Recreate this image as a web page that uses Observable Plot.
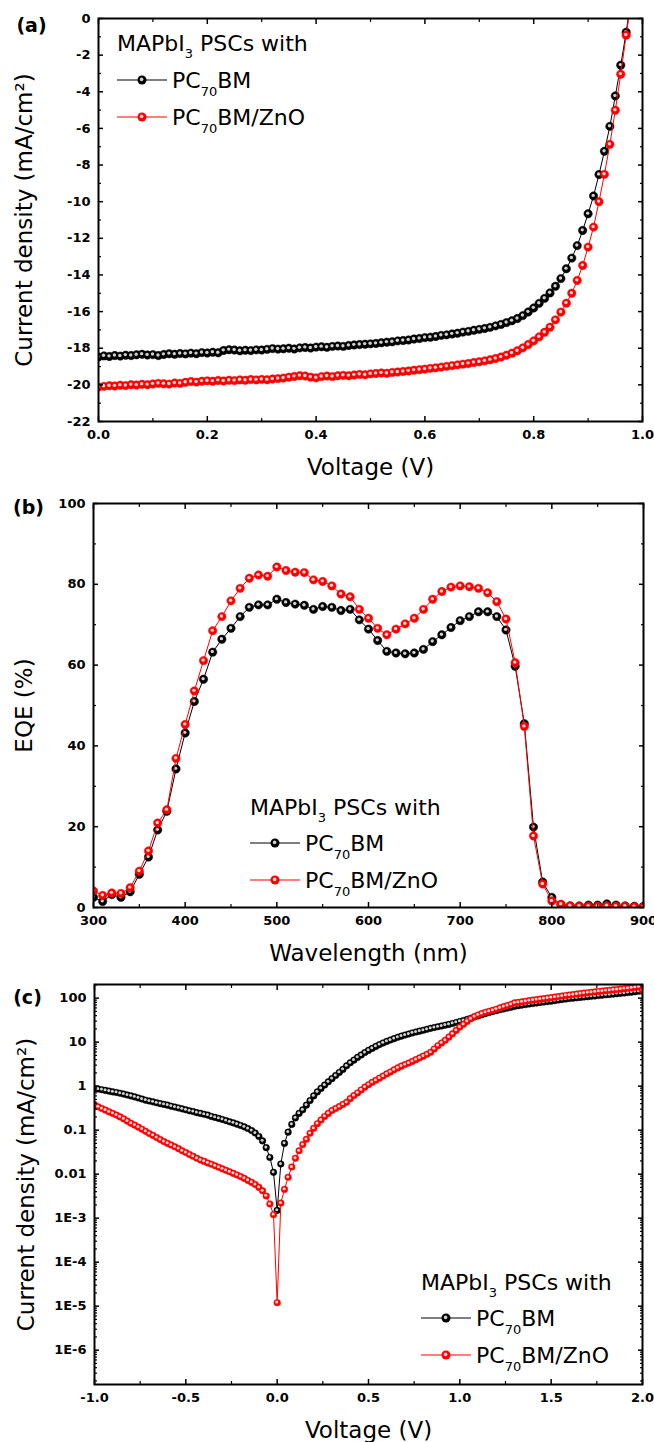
<!DOCTYPE html>
<html><head><meta charset="utf-8">
<script src="https://cdn.jsdelivr.net/npm/d3@7"></script>
<script src="https://cdn.jsdelivr.net/npm/@observablehq/plot@0.6"></script>
<style>
body{margin:0;background:#fff;}
#page{position:relative;width:654px;height:1442px;overflow:hidden;}
.panel{position:absolute;left:0;width:654px;}
.panel svg{display:block;}
.legend{position:absolute;left:0;top:0;pointer-events:none;}
</style></head><body><div id="page"></div>
<script>
const FONT = "'DejaVu Sans', 'Liberation Sans', Arial, sans-serif";

// ---------- (a) J-V under illumination ----------
const voltageA = d3.range(0, 99).map(i => i / 100); // 0.00 ... 0.98 V measurement grid
const jvBlack = [-18.48,-18.42,-18.45,-18.40,-18.43,-18.38,-18.40,-18.36,-18.33,-18.37,
 -18.35,-18.40,-18.34,-18.30,-18.33,-18.29,-18.31,-18.27,-18.30,-18.24,
 -18.26,-18.22,-18.25,-18.12,-18.08,-18.10,-18.14,-18.11,-18.13,-18.09,
 -18.10,-18.06,-18.02,-18.05,-18.03,-18.00,-18.04,-17.98,-17.96,-17.99,
 -17.94,-17.92,-17.95,-17.90,-17.88,-17.90,-17.85,-17.82,-17.80,-17.78,
 -17.76,-17.74,-17.70,-17.67,-17.65,-17.60,-17.58,-17.55,-17.50,-17.47,
 -17.42,-17.40,-17.36,-17.30,-17.27,-17.22,-17.18,-17.12,-17.08,-17.02,
 -16.97,-16.92,-16.86,-16.78,-16.70,-16.60,-16.50,-16.38,-16.22,-16.02,
 -15.80,-15.55,-15.28,-14.98,-14.62,-14.20,-13.66,-13.08,-12.40,-11.57,
 -10.66,-9.69,-8.52,-7.25,-5.89,-4.23,-2.55,-0.75,1.3];
const jvRed = [-20.12,-20.08,-20.05,-20.06,-20.02,-20.04,-19.99,-20.01,-19.97,-19.99,
 -19.95,-19.92,-19.94,-19.96,-19.90,-19.92,-19.86,-19.82,-19.85,-19.80,
 -19.78,-19.80,-19.76,-19.79,-19.75,-19.77,-19.73,-19.75,-19.71,-19.73,
 -19.70,-19.72,-19.68,-19.66,-19.63,-19.58,-19.54,-19.50,-19.52,-19.58,
 -19.62,-19.55,-19.52,-19.55,-19.50,-19.48,-19.50,-19.46,-19.43,-19.45,
 -19.40,-19.38,-19.35,-19.37,-19.32,-19.30,-19.27,-19.24,-19.20,-19.17,
 -19.14,-19.10,-19.07,-19.03,-18.99,-18.95,-18.91,-18.87,-18.83,-18.78,
 -18.74,-18.69,-18.63,-18.56,-18.48,-18.38,-18.27,-18.14,-17.98,-17.80,
 -17.60,-17.38,-17.13,-16.85,-16.45,-16.03,-15.54,-15.00,-14.30,-13.48,
 -12.48,-11.39,-10.00,-8.51,-6.87,-5.01,-3.04,-0.91,1.1];
const xTicksA = [0, 0.2, 0.4, 0.6, 0.8, 1.0];
const xLabelsA = ["0.0","0.2","0.4","0.6","0.8","1.0"];
const xMinorA = [0.1, 0.3, 0.5, 0.7, 0.9];
const yTicksA = [-22,-20,-18,-16,-14,-12,-10,-8,-6,-4,-2,0];
const yLabelsA = ["-22","-20","-18","-16","-14","-12","-10","-8","-6","-4","-2","0"];
const yMinorA = [-21,-19,-17,-15,-13,-11,-9,-7,-5,-3,-1];

// ---------- (b) EQE ----------
const wavelength = d3.range(300, 901, 10);
const eqeBlack = [2.5,1.5,3.2,2.5,3.9,8.2,12.5,19.2,23.8,34.3,
 43.2,51.0,56.5,63.2,66.4,69.1,72.0,74.3,74.9,74.9,
 76.3,75.5,75.1,74.8,73.8,74.5,74.3,73.5,73.8,71.2,
 68.9,66.1,63.4,63.0,62.8,63.0,63.9,65.8,67.5,69.3,
 71.0,72.0,73.2,73.2,72.0,68.7,59.7,45.5,19.9,6.3,
 2.5,0.7,0.4,0.4,0.6,0.6,0.9,0.6,0.4,0.3,0.3];
const eqeRed = [4.1,3.0,3.6,3.5,4.9,9.0,14.0,20.9,24.2,36.9,
 45.3,53.6,61.1,68.5,72.0,75.9,79.0,81.5,82.3,82.0,
 84.3,83.4,83.0,82.9,81.1,80.7,79.6,77.6,76.9,73.8,
 71.6,69.1,67.5,68.9,70.2,71.6,73.8,76.3,78.2,79.3,
 79.6,79.4,79.0,77.9,75.7,71.4,60.6,44.8,17.7,5.8,
 1.6,0.8,0.4,0.3,0.3,0.3,0.4,0.3,0.3,0.2,0.2];
const xTicksB = [300,400,500,600,700,800,900];
const xLabelsB = ["300","400","500","600","700","800","900"];
const xMinorB = [350,450,550,650,750,850];
const yTicksB = [0,20,40,60,80,100];
const yLabelsB = ["0","20","40","60","80","100"];
const yMinorB = [10,30,50,70,90];

// ---------- (c) dark J-V (log) ----------
const voltageC = d3.range(0, 151).map(i => Math.round((-1 + i * 0.02) * 100) / 100); // -1.00 ... 2.00 V grid
const darkBlack = [0.88,0.86,0.83,0.80,0.77,0.74,0.72,0.69,0.66,0.63,
 0.60,0.57,0.54,0.51,0.48,0.46,0.44,0.42,0.40,0.385,
 0.37,0.35,0.335,0.32,0.305,0.29,0.275,0.265,0.25,0.24,
 0.23,0.22,0.205,0.195,0.185,0.175,0.165,0.155,0.146,0.137,
 0.128,0.119,0.109,0.098,0.086,0.072,0.057,0.040,0.024,0.011,
 0.0015,
 0.017,0.050,0.090,0.135,0.19,0.24,0.29,0.37,0.47,0.60,
 0.74,0.89,1.06,1.26,1.48,1.74,2.05,2.4,2.9,3.4,
 3.9,4.5,5.1,5.8,6.5,7.2,8.0,8.8,9.6,10.4,
 11.2,12.0,12.9,13.7,14.5,15.3,16.2,17.0,17.8,18.6,
 19.6,20.6,21.5,22.4,23.3,24.3,25.3,26.6,28.0,29.5,
 31,33,35,37.2,39.5,42,44.5,47,49.5,52,
 54.5,57,59.5,62,65,67.5,69.5,71.5,73.5,75.5,
 77.5,79.5,81.5,83.5,85.5,88,90.5,93,95.5,98,
 100,102,104,106,108,110,112,114.5,117,119,
 121,123.5,126,128.5,131,134,137,140,143,145];
const darkRed = [0.38,0.34,0.31,0.285,0.26,0.24,0.22,0.20,0.18,0.16,
 0.143,0.13,0.117,0.105,0.094,0.084,0.076,0.068,0.061,0.055,
 0.050,0.046,0.042,0.038,0.034,0.031,0.028,0.0255,0.023,0.021,
 0.0195,0.018,0.0168,0.0155,0.0143,0.0132,0.0122,0.0113,0.0104,0.0096,
 0.0088,0.0080,0.0072,0.0065,0.0058,0.0050,0.0042,0.0032,0.0021,0.0012,
 0.000012,
 0.0022,0.0045,0.0085,0.0145,0.023,0.034,0.047,0.062,0.085,0.11,
 0.14,0.17,0.205,0.24,0.28,0.31,0.345,0.385,0.43,0.52,
 0.61,0.70,0.82,0.95,1.08,1.22,1.36,1.52,1.70,1.90,
 2.10,2.35,2.6,2.85,3.1,3.35,3.65,4.0,4.4,4.8,
 5.3,5.9,7.0,8.3,9.6,11.0,13.0,15.5,18.5,22,
 25.5,29.5,34,38,41.5,44.5,47.5,50,53,56,
 60,64,68,72,78,80,82.5,85,88,90,
 92.5,95,97.5,100,103,106,109,112,115,118,
 121,124,127,130,133,136,139,142,145,148,
 151,154,157,160,164,168,172,176,180,150];
const xTicksC = [-1,-0.5,0,0.5,1,1.5,2];
const xLabelsC = ["-1.0","-0.5","0.0","0.5","1.0","1.5","2.0"];
const xMinorC = [-0.75,-0.25,0.25,0.75,1.25,1.75];
const yTicksC = [1e-6,1e-5,1e-4,1e-3,0.01,0.1,1,10,100];
const yLabelsC = ["1E-6","1E-5","1E-4","1E-3","0.01","0.1","1","10","100"];
const yMinorC = [1e-7,1e-6,1e-5,1e-4,1e-3,0.01,0.1,1,10,100].flatMap(d => [2,3,4,5,6,7,8,9].map(m => m * d)).filter(v => v > 10 ** -6.78 && v < 10 ** 2.31);

// ---------- legend text ----------
const legendTitle = ["MAPbI", "3", " PSCs with"];
const seriesNames = [["PC", "70", "BM"], ["PC", "70", "BM/ZnO"]];
const seriesColors = ["#000000", "#ff0000"];
const seriesHighlights = ["#cfcfcf", "#ffd6d6"];

const page = document.getElementById("page");

function makePanel(cfg) {
  const fmt = (ticks, labels) => d => { const i = ticks.indexOf(d); return i < 0 ? "" : labels[i]; };
  const dataMarks = cfg.series.flatMap((s, k) => {
    const rows = s.x.map((xv, i) => ({x: xv, y: s.y[i]}));
    return [
      Plot.line(rows, {x: "x", y: "y", stroke: seriesColors[k], strokeWidth: 1, clip: true}),
      Plot.dot(rows, {x: "x", y: "y", r: cfg.r, fill: seriesColors[k], stroke: seriesColors[k], strokeWidth: 0.5, clip: true}),
      Plot.dot(rows, {x: "x", y: "y", r: cfg.hr, fill: seriesHighlights[k], dx: -0.4, dy: -0.6, clip: true})
    ];
  });
  const tickAxes = [];
  for (const anchor of ["bottom", "top"]) {
    tickAxes.push(Plot.axisX(cfg.xMajor, {anchor, tickSize: -5, strokeWidth: 1.5, fill: "none", label: null}));
    tickAxes.push(Plot.axisX(cfg.xMinor, {anchor, tickSize: -3, strokeWidth: 1.2, fill: "none", label: null}));
  }
  for (const anchor of ["left", "right"]) {
    tickAxes.push(Plot.axisY(cfg.yMajor, {anchor, tickSize: -5, strokeWidth: 1.5, fill: "none", label: null}));
    tickAxes.push(Plot.axisY(cfg.yMinor, {anchor, tickSize: -3, strokeWidth: 1.2, fill: "none", label: null}));
  }
  const svg = Plot.plot({
    width: 654, height: cfg.height,
    marginTop: cfg.m[0], marginRight: cfg.m[1], marginBottom: cfg.m[2], marginLeft: cfg.m[3],
    style: {fontFamily: FONT, color: "#000", background: "#fff", overflow: "visible"},
    x: {domain: cfg.xDomain},
    y: {domain: cfg.yDomain, type: cfg.yType || "linear"},
    marks: [
      ...dataMarks,
      ...tickAxes,
      Plot.axisX(cfg.xMajor, {anchor: "bottom", tickSize: 0, tickPadding: 8, tickFormat: fmt(cfg.xMajor, cfg.xLabels), fontWeight: "bold", fontSize: 13, label: null}),
      Plot.axisY(cfg.yMajor, {anchor: "left", tickSize: 0, tickPadding: 8, tickFormat: fmt(cfg.yMajor, cfg.yLabels), fontWeight: "bold", fontSize: 13, label: null}),
      Plot.frame({stroke: "#000", strokeWidth: 2}),
      Plot.text([cfg.xTitle], {text: d => d, frameAnchor: "bottom", dy: 46, textAnchor: "middle", lineAnchor: "middle", fontSize: 23}),
      Plot.text([cfg.yTitle], {text: d => d, frameAnchor: "left", dx: cfg.yTitleDx, rotate: -90, textAnchor: "middle", lineAnchor: "middle", fontSize: 23}),
      Plot.text([cfg.tag], {text: d => d, frameAnchor: "top-left", dx: cfg.tagDx, dy: cfg.tagDy, textAnchor: "middle", lineAnchor: "middle", fontWeight: "bold", fontSize: 19})
    ]
  });
  const div = document.createElement("div");
  div.className = "panel";
  div.style.top = cfg.top + "px";
  div.style.height = cfg.height + "px";
  div.appendChild(svg);
  page.appendChild(div);

  // legend overlay
  const L = cfg.legend;
  const lg = d3.select(div).append("svg").attr("class", "legend")
    .attr("width", 654).attr("height", cfg.height)
    .style("font-family", FONT).style("font-size", "22px");
  const t = lg.append("text").attr("x", L.x).attr("y", L.titleY + 8);
  t.append("tspan").text(legendTitle[0]);
  t.append("tspan").attr("font-size", 13).attr("dy", 7).text(legendTitle[1]);
  t.append("tspan").attr("dy", -7).text(legendTitle[2]);
  L.rows.forEach((y, k) => {
    lg.append("line").attr("x1", L.x).attr("x2", L.x + 50).attr("y1", y).attr("y2", y)
      .attr("stroke", seriesColors[k]).attr("stroke-width", 1.2);
    lg.append("circle").attr("cx", L.x + 25).attr("cy", y).attr("r", 4.5).attr("fill", seriesColors[k]);
    lg.append("circle").attr("cx", L.x + 24.6).attr("cy", y - 0.6).attr("r", 1.8).attr("fill", seriesHighlights[k]);
    const tx = lg.append("text").attr("x", L.x + 55).attr("y", y + 8);
    tx.append("tspan").text(seriesNames[k][0]);
    tx.append("tspan").attr("font-size", 13).attr("dy", 8).text(seriesNames[k][1]);
    tx.append("tspan").attr("dy", -8).text(seriesNames[k][2]);
  });
}

makePanel({
  top: 0, height: 482, m: [18, 12, 61, 98],
  xDomain: [0, 1], yDomain: [-22, 0],
  xMajor: xTicksA, xLabels: xLabelsA, xMinor: xMinorA,
  yMajor: yTicksA, yLabels: yLabelsA, yMinor: yMinorA,
  series: [{x: voltageA, y: jvBlack}, {x: voltageA, y: jvRed}],
  r: 4.2, hr: 1.7,
  xTitle: "Voltage (V)", yTitle: "Current density (mA/cm²)", yTitleDx: -74,
  tag: "(a)", tagDx: -67, tagDy: 7,
  legend: {x: 117, titleY: 42.5, rows: [80, 117]}
});

makePanel({
  top: 482, height: 486, m: [21, 11, 61, 93],
  xDomain: [300, 900], yDomain: [0, 100],
  xMajor: xTicksB, xLabels: xLabelsB, xMinor: xMinorB,
  yMajor: yTicksB, yLabels: yLabelsB, yMinor: yMinorB,
  series: [{x: wavelength, y: eqeBlack}, {x: wavelength, y: eqeRed}],
  r: 4.2, hr: 1.7,
  xTitle: "Wavelength (nm)", yTitle: "EQE (%)", yTitleDx: -69,
  tag: "(b)", tagDx: -65, tagDy: 4,
  legend: {x: 250, titleY: 325, rows: [361, 398]}
});

makePanel({
  top: 968, height: 474, m: [16, 12, 58, 94],
  xDomain: [-1, 2], yDomain: [10 ** -6.78, 10 ** 2.31], yType: "log",
  xMajor: xTicksC, xLabels: xLabelsC, xMinor: xMinorC,
  yMajor: yTicksC, yLabels: yLabelsC, yMinor: yMinorC,
  series: [{x: voltageC, y: darkBlack}, {x: voltageC, y: darkRed}],
  r: 3.3, hr: 1.5,
  xTitle: "Voltage (V)", yTitle: "Current density (mA/cm²)", yTitleDx: -68,
  tag: "(c)", tagDx: -67, tagDy: 13,
  legend: {x: 421, titleY: 314, rows: [350, 387]}
});
</script>
</body></html>
